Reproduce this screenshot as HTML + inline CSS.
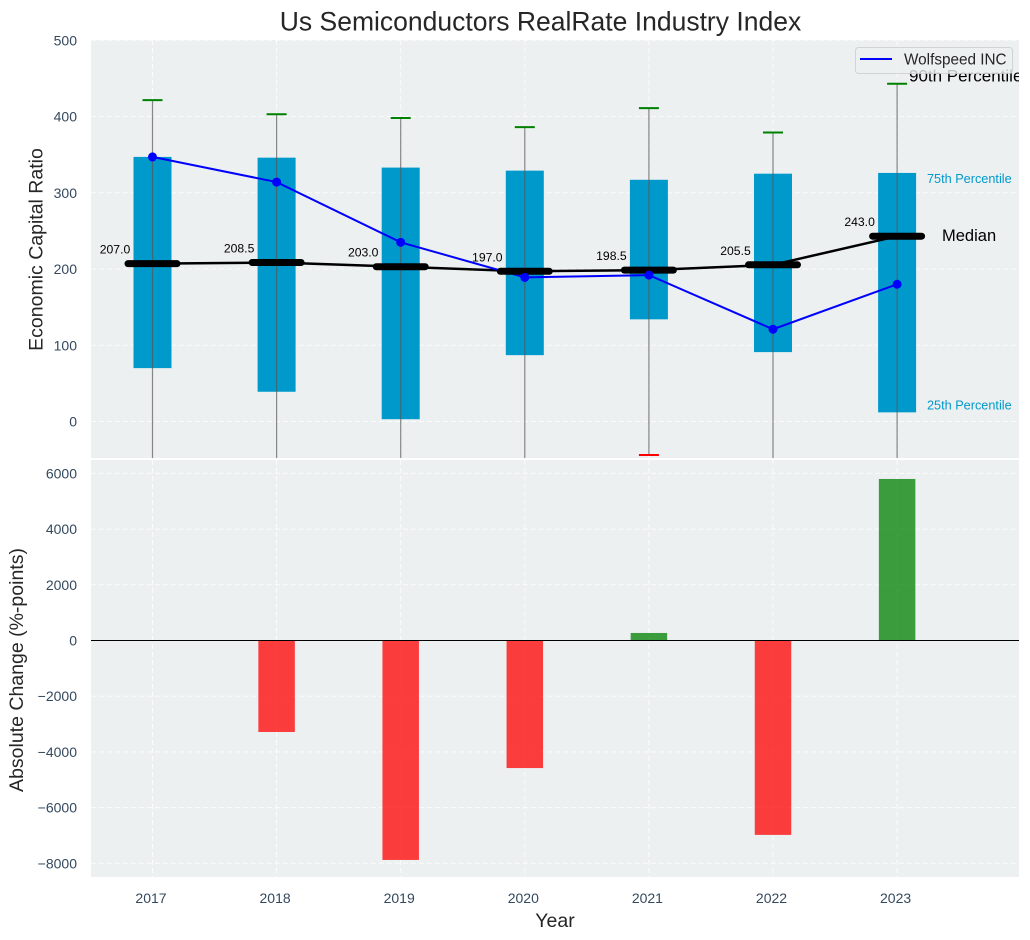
<!DOCTYPE html>
<html>
<head>
<meta charset="utf-8">
<style>
html,body{margin:0;padding:0;background:#fff;}
svg{display:block;font-family:"Liberation Sans",sans-serif;}
</style>
</head>
<body>
<svg id="chart" xmlns="http://www.w3.org/2000/svg" width="1030" height="940" viewBox="0 0 1030 940">
  <defs>
    <clipPath id="clip-top"><rect x="91" y="40" width="928" height="418"/></clipPath>
    <clipPath id="clip-bottom"><rect x="91" y="460" width="928" height="417"/></clipPath>
  </defs>
  <rect x="91" y="40" width="928" height="418" fill="#ecf0f1"/>
  <rect x="91" y="460" width="928" height="417" fill="#ecf0f1"/>
  <g id="grid"></g>
  <g id="top" clip-path="url(#clip-top)"></g>
  <g id="bottom" clip-path="url(#clip-bottom)"></g>
  <g id="ticks"></g>
  <text x="540.5" y="30.5" text-anchor="middle" font-size="26.5" fill="#262626">Us Semiconductors RealRate Industry Index</text>
  <text transform="translate(42.5,249.5) rotate(-90)" text-anchor="middle" font-size="19.5" fill="#262626">Economic Capital Ratio</text>
  <text transform="translate(23,670) rotate(-90)" text-anchor="middle" font-size="19.5" fill="#262626">Absolute Change (%-points)</text>
  <text x="555" y="927" text-anchor="middle" font-size="19.5" fill="#262626">Year</text>
  <g>
    <rect x="855.5" y="47.5" width="157" height="26" rx="3" fill="#ecf0f1" fill-opacity="0.8" stroke="#cccccc" stroke-opacity="0.8"/>
    <line x1="860" x2="892" y1="59" y2="59" stroke="#0000ff" stroke-width="2"/>
    <text x="904" y="64.5" font-size="15.3" fill="#262626">Wolfspeed INC</text>
  </g>
</svg>
<script>
const years = [2017, 2018, 2019, 2020, 2021, 2022, 2023];
const p90 = [421.5, 403, 398, 386, 411, 379, 443];
const p75 = [347, 346, 333, 329, 317, 325, 326];
const medians = [207.0, 208.5, 203.0, 197.0, 198.5, 205.5, 243.0];
const p25 = [70, 39, 3, 87, 134, 91, 12];
const p10 = [-80, -80, -80, -80, -44, -80, -80];
const wolfspeed = [347, 314, 235, 189, 192, 121, 180];
const changes = [0, -3285, -7880, -4580, 270, -6980, 5800];
const topTicks = [0, 100, 200, 300, 400, 500];
const bottomTicks = [-8000, -6000, -4000, -2000, 0, 2000, 4000, 6000];

const NS = 'http://www.w3.org/2000/svg';
const x = v => 152.5 + (v - 2017) * 124.1;
const yTop = v => 421.5 - v * 0.7625;
const yBottom = v => 640.5 - v * 0.02785;
const barHalf = 0.147 * 124.1;

function make(parent, tag, attrs, text) {
  const el = document.createElementNS(NS, tag);
  for (const k in attrs) el.setAttribute(k, attrs[k]);
  if (text !== undefined) el.textContent = text;
  parent.appendChild(el);
  return el;
}
const grid = document.getElementById('grid');
const top_ = document.getElementById('top');
const bottom = document.getElementById('bottom');
const ticks = document.getElementById('ticks');
const dash = {stroke: '#ffffff', 'stroke-width': 1, 'stroke-dasharray': '5 3', 'stroke-opacity': 0.8};

years.forEach(yr => {
  const a = make(grid, 'line', {x1: x(yr), x2: x(yr), y1: 40, y2: 458, ...dash});
  
  
  const b = make(grid, 'line', {x1: x(yr), x2: x(yr), y1: 460, y2: 877, ...dash});
  
  
  const t = make(ticks, 'text', {x: x(yr) - 1.5, y: 903, 'text-anchor': 'middle', 'font-size': 14, fill: '#34495e'}, String(yr));
  
  
});
topTicks.forEach(v => {
  const l = make(grid, 'line', {x1: 91, x2: 1019, y1: yTop(v), y2: yTop(v), ...dash});
  
  
  const t = make(ticks, 'text', {x: 77, y: yTop(v) + 5, 'text-anchor': 'end', 'font-size': 14, fill: '#34495e'}, String(v));
  
  
});
bottomTicks.forEach(v => {
  const l = make(grid, 'line', {x1: 91, x2: 1019, y1: yBottom(v), y2: yBottom(v), ...dash});
  
  
  const t = make(ticks, 'text', {x: 77, y: yBottom(v) + 5, 'text-anchor': 'end', 'font-size': 14, fill: '#34495e'}, String(v).replace('-', '\u2212'));
  
  
});

years.forEach((yr, i) => {
  const box = make(top_, 'rect', {x: x(yr) - 19, y: yTop(p75[i]), width: 38, height: yTop(p25[i]) - yTop(p75[i]), fill: '#0099cc'});
  
  
  const whisker = make(top_, 'line', {x1: x(yr), x2: x(yr), y1: yTop(p90[i]), y2: yTop(p10[i]), stroke: '#555555', 'stroke-opacity': 0.7, 'stroke-width': 1.2});
  
  
  const capHi = make(top_, 'line', {x1: x(yr) - 10, x2: x(yr) + 10, y1: yTop(p90[i]), y2: yTop(p90[i]), stroke: '#008000', 'stroke-width': 2});
  
  
  const capLo = make(top_, 'line', {x1: x(yr) - 10, x2: x(yr) + 10, y1: yTop(p10[i]), y2: yTop(p10[i]), stroke: '#ff0000', 'stroke-width': 2});
  
  
});

const medianLine = make(top_, 'polyline', {points: years.map((yr, i) => x(yr) + ',' + yTop(medians[i])).join(' '), fill: 'none', stroke: '#000000', 'stroke-width': 2.5});


const blueLine = make(top_, 'polyline', {points: years.map((yr, i) => x(yr) + ',' + yTop(wolfspeed[i])).join(' '), fill: 'none', stroke: '#0000ff', 'stroke-width': 2});



years.forEach((yr, i) => {
  const bar = make(top_, 'line', {x1: x(yr) - 24.5, x2: x(yr) + 24.5, y1: yTop(medians[i]), y2: yTop(medians[i]), stroke: '#000000', 'stroke-width': 7, 'stroke-linecap': 'round'});
  
  
  const dot = make(top_, 'circle', {cx: x(yr), cy: yTop(wolfspeed[i]), r: 4.5, fill: '#0000ff'});
  
  
  const label = make(top_, 'text', {x: x(yr) - 37.5, y: yTop(medians[i]) - 10, 'text-anchor': 'middle', 'font-size': 12.2, fill: '#000000'}, medians[i].toFixed(1));
  
  

  if (changes[i] !== 0) {
    const y0 = yBottom(Math.max(changes[i], 0));
    const y1 = yBottom(Math.min(changes[i], 0));
    const c = make(bottom, 'rect', {x: x(yr) - barHalf, y: y0, width: barHalf * 2, height: y1 - y0, fill: changes[i] > 0 ? '#008000' : '#ff0000', 'fill-opacity': 0.75});
    
    
  }
});
const zero = make(bottom, 'line', {x1: 91, x2: 1019, y1: yBottom(0), y2: yBottom(0), stroke: '#000000', 'stroke-width': 1});



const lastIdx = years.length - 1;
const anno90 = make(top_, 'text', {x: 909, y: yTop(p90[lastIdx]) - 2, 'font-size': 17, fill: '#000000'}, '90th Percentile');


const anno75 = make(top_, 'text', {x: 927, y: yTop(p75[lastIdx]) + 10, 'font-size': 12.7, fill: '#0099cc'}, '75th Percentile');


const annoMed = make(top_, 'text', {x: 942, y: yTop(medians[lastIdx]) + 5, 'font-size': 16.5, fill: '#000000'}, 'Median');


const anno25 = make(top_, 'text', {x: 927, y: yTop(p25[lastIdx]) - 3, 'font-size': 12.7, fill: '#0099cc'}, '25th Percentile');


</script>
</body>
</html>
